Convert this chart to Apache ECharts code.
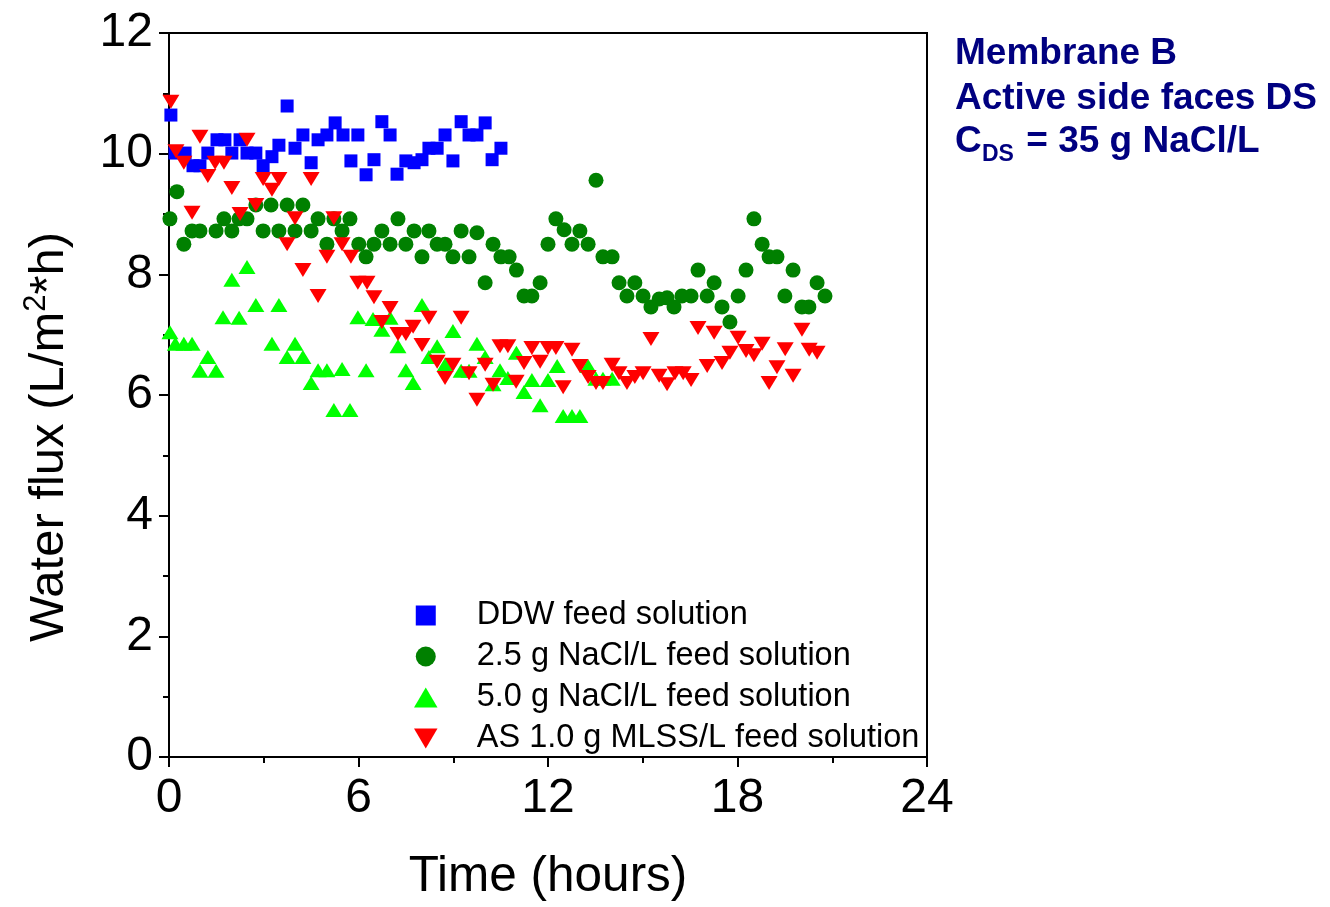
<!DOCTYPE html>
<html>
<head>
<meta charset="utf-8">
<script src="https://cdn.jsdelivr.net/npm/echarts@6/dist/echarts.min.js"></script>
<style>
html,body{margin:0;padding:0;background:#fff;overflow:hidden;}
#chart{width:1330px;height:907px;}
</style>
</head>
<body>
<div id="chart"></div>
<script>
// ---- Data ----
const seriesNames = ['DDW feed solution', '2.5 g NaCl/L feed solution', '5.0 g NaCl/L feed solution', 'AS 1.0 g MLSS/L feed solution'];
const xTicks = [0, 6, 12, 18, 24];
const yTicks = [0, 2, 4, 6, 8, 10, 12];

const ddwTime = [0.06,0.19,0.51,0.76,0.98,1.23,1.52,1.77,1.99,2.25,2.47,2.75,2.98,3.26,3.48,3.74,3.99,4.24,4.5,4.72,5.0,5.26,5.51,5.76,5.98,6.24,6.49,6.74,7.0,7.22,7.5,7.76,8.01,8.23,8.49,8.74,8.99,9.25,9.5,9.75,10.01,10.23,10.51];
const ddwFlux = [10.64,10.01,10.01,9.80,9.80,10.01,10.23,10.23,10.01,10.23,10.01,10.01,9.80,9.95,10.14,10.79,10.09,10.31,9.85,10.23,10.31,10.51,10.31,9.88,10.31,9.65,9.90,10.53,10.31,9.66,9.88,9.85,9.90,10.09,10.09,10.31,9.88,10.53,10.31,10.31,10.51,9.90,10.09];

const nacl25Time = [0.03,0.25,0.47,0.73,0.98,1.49,1.74,1.99,2.22,2.47,2.75,2.98,3.23,3.48,3.74,3.99,4.24,4.5,4.72,5.0,5.22,5.48,5.73,6.01,6.24,6.49,6.74,7.0,7.25,7.5,7.76,8.01,8.23,8.49,8.74,8.99,9.25,9.5,9.75,10.01,10.26,10.51,10.77,11.0,11.24,11.49,11.75,12.0,12.25,12.51,12.76,13.01,13.27,13.52,13.74,14.03,14.25,14.5,14.75,15.01,15.26,15.52,15.77,15.99,16.24,16.53,16.75,17.04,17.26,17.51,17.76,18.02,18.27,18.52,18.78,19.0,19.25,19.5,19.76,20.04,20.26,20.52,20.77];
const nacl25Flux = [8.92,9.37,8.50,8.72,8.72,8.72,8.92,8.72,8.92,8.92,9.15,8.72,9.15,8.72,9.15,8.72,9.15,8.72,8.92,8.50,8.92,8.72,8.92,8.50,8.29,8.50,8.72,8.50,8.92,8.50,8.72,8.29,8.72,8.50,8.50,8.29,8.72,8.29,8.69,7.86,8.50,8.29,8.29,8.07,7.64,7.64,7.86,8.50,8.92,8.74,8.50,8.72,8.50,9.56,8.29,8.29,7.86,7.64,7.86,7.64,7.46,7.59,7.61,7.46,7.64,7.64,8.07,7.64,7.86,7.46,7.21,7.64,8.07,8.92,8.50,8.29,8.29,7.64,8.07,7.46,7.46,7.86,7.64];

const nacl50Time = [0.03,0.2,0.47,0.73,0.98,1.23,1.49,1.71,1.99,2.22,2.47,2.75,3.26,3.48,3.74,3.99,4.24,4.5,4.72,5.0,5.22,5.48,5.73,5.98,6.24,6.46,6.74,7.0,7.25,7.5,7.73,8.01,8.23,8.49,8.74,8.99,9.25,9.5,9.75,10.01,10.26,10.48,10.73,11.0,11.24,11.49,11.75,12.0,12.29,12.48,12.76,13.01,13.27,13.52,13.74,14.03];
const nacl50Flux = [7.04,6.85,6.85,6.85,6.40,6.63,6.40,7.29,7.91,7.28,8.12,7.49,6.85,7.49,6.63,6.85,6.63,6.20,6.41,6.41,5.75,6.43,5.75,7.29,6.41,7.26,7.08,7.28,6.81,6.41,6.20,7.49,6.63,6.81,6.50,7.06,6.40,6.40,6.85,6.63,6.18,6.41,6.28,6.70,6.05,6.25,5.83,6.25,6.48,5.65,5.65,5.65,6.48,6.27,6.27,6.27];

const asTime = [0.06,0.22,0.47,0.73,0.98,1.23,1.46,1.74,1.99,2.25,2.47,2.75,2.98,3.26,3.48,3.74,3.99,4.24,4.5,4.72,5.0,5.22,5.48,5.76,5.98,6.27,6.49,6.74,7.0,7.25,7.5,7.73,8.01,8.23,8.49,8.74,8.99,9.25,9.5,9.75,10.01,10.26,10.48,10.73,10.99,11.24,11.49,11.75,12.0,12.25,12.48,12.76,13.01,13.27,13.52,13.74,14.03,14.25,14.5,14.75,15.01,15.26,15.52,15.77,16.02,16.28,16.53,16.75,17.04,17.26,17.51,17.76,18.02,18.27,18.52,18.78,19.0,19.25,19.51,19.76,20.04,20.27,20.52];
const asFlux = [10.86,10.04,9.85,9.02,10.28,9.63,9.85,9.85,9.43,9.00,10.23,9.15,9.58,9.40,9.58,8.50,8.93,8.07,9.58,7.64,8.29,8.93,8.50,8.29,7.86,7.86,7.62,7.21,7.44,7.01,7.01,7.13,6.83,7.28,6.55,6.28,6.50,7.28,6.36,5.92,6.50,6.17,6.81,6.81,6.22,6.53,6.78,6.55,6.78,6.78,6.13,6.75,6.48,6.30,6.20,6.20,6.50,6.36,6.20,6.30,6.36,6.93,6.32,6.18,6.36,6.36,6.25,7.11,6.48,7.03,6.53,6.70,6.95,6.73,6.66,6.85,6.20,6.46,6.76,6.32,7.08,6.75,6.70];

function pairs(xs, ys) { return xs.map((x, i) => [x, ys[i]]); }

const FONT = 'Liberation Sans, Arial, Helvetica, sans-serif';
const downTri = 'path://M0,0L20,0L10,17Z';
const upTri = 'path://M10,0L20,17L0,17Z';
const square = 'path://M0,0L10,0L10,10L0,10Z';
const NAVY = '#000080';

const chart = echarts.init(document.getElementById('chart'), null, {renderer: 'canvas'});
chart.setOption({
  animation: false,
  backgroundColor: '#ffffff',
  grid: {left: 169, top: 33, width: 758, height: 724, containLabel: false, outerBoundsMode: 'none',
    show: true, borderColor: '#000', borderWidth: 2, backgroundColor: 'transparent'},
  xAxis: {
    type: 'value', min: xTicks[0], max: xTicks[xTicks.length - 1], interval: 6,
    name: 'Time (hours)', nameLocation: 'middle', nameGap: 94,
    nameTextStyle: {fontFamily: FONT, fontSize: 49.5, color: '#000', lineHeight: 52},
    axisLine: {show: true, onZero: false, lineStyle: {color: '#000', width: 2}},
    axisTick: {show: true, inside: false, length: 10, lineStyle: {color: '#000', width: 2}},
    minorTick: {show: true, splitNumber: 2, length: 6, lineStyle: {color: '#000', width: 2}},
    axisLabel: {fontFamily: FONT, fontSize: 48, color: '#000', margin: 18},
    splitLine: {show: false}
  },
  yAxis: {
    type: 'value', min: yTicks[0], max: yTicks[yTicks.length - 1], interval: 2,
    name: '{a|Water flux (L/m}{s|2}{a|*h)}', nameLocation: 'middle', nameGap: 92, nameRotate: 90,
    nameTextStyle: {fontFamily: FONT, fontSize: 49, color: '#000', padding: [0, 84, 0, 0],
      rich: {
        a: {fontFamily: FONT, fontSize: 49, color: '#000', lineHeight: 56},
        s: {fontFamily: FONT, fontSize: 31, color: '#000', verticalAlign: 'top', lineHeight: 56, padding: [0, 0, 18, 0]}
      }},
    axisLine: {show: true, onZero: false, lineStyle: {color: '#000', width: 2}},
    axisTick: {show: true, inside: false, length: 10, lineStyle: {color: '#000', width: 2}},
    minorTick: {show: true, splitNumber: 2, length: 6, lineStyle: {color: '#000', width: 2}},
    axisLabel: {fontFamily: FONT, fontSize: 48, color: '#000', margin: 16},
    splitLine: {show: false}
  },
  legend: {
    orient: 'vertical', left: 409, top: 594,
    itemWidth: 92, itemHeight: 20, itemGap: 8,
    symbolKeepAspect: true,
    textStyle: {fontFamily: FONT, fontSize: 32.5, color: '#000', lineHeight: 32},
    data: [
      {name: seriesNames[0], icon: square},
      {name: seriesNames[1], icon: 'circle'},
      {name: seriesNames[2], icon: upTri},
      {name: seriesNames[3], icon: downTri}
    ]
  },
  graphic: [
    {type: 'text', left: 955, top: 35, style: {text: 'Membrane B', font: 'bold 37px ' + FONT, fill: NAVY}},
    {type: 'text', left: 955, top: 80, style: {text: 'Active side faces DS', font: 'bold 37px ' + FONT, fill: NAVY}},
    {type: 'text', left: 955, top: 123, style: {text: 'C', font: 'bold 37px ' + FONT, fill: NAVY}},
    {type: 'text', left: 982, top: 143, style: {text: 'DS', font: 'bold 23px ' + FONT, fill: NAVY}},
    {type: 'text', left: 1016, top: 123, style: {text: ' = 35 g NaCl/L', font: 'bold 37px ' + FONT, fill: NAVY}}
  ],
  series: [
    {name: seriesNames[0], type: 'scatter', data: pairs(ddwTime, ddwFlux), symbol: 'rect', symbolSize: 13, itemStyle: {color: '#0000ff', opacity: 1}, clip: false},
    {name: seriesNames[1], type: 'scatter', data: pairs(nacl25Time, nacl25Flux), symbol: 'circle', symbolSize: 15, itemStyle: {color: '#008000', opacity: 1}, clip: false},
    {name: seriesNames[2], type: 'scatter', data: pairs(nacl50Time, nacl50Flux), symbol: upTri, symbolSize: [17, 14], itemStyle: {color: '#00ff00', opacity: 1}, clip: false},
    {name: seriesNames[3], type: 'scatter', data: pairs(asTime, asFlux), symbol: downTri, symbolSize: [17, 14], itemStyle: {color: '#ff0000', opacity: 1}, clip: false}
  ]
});
</script>
</body>
</html>
